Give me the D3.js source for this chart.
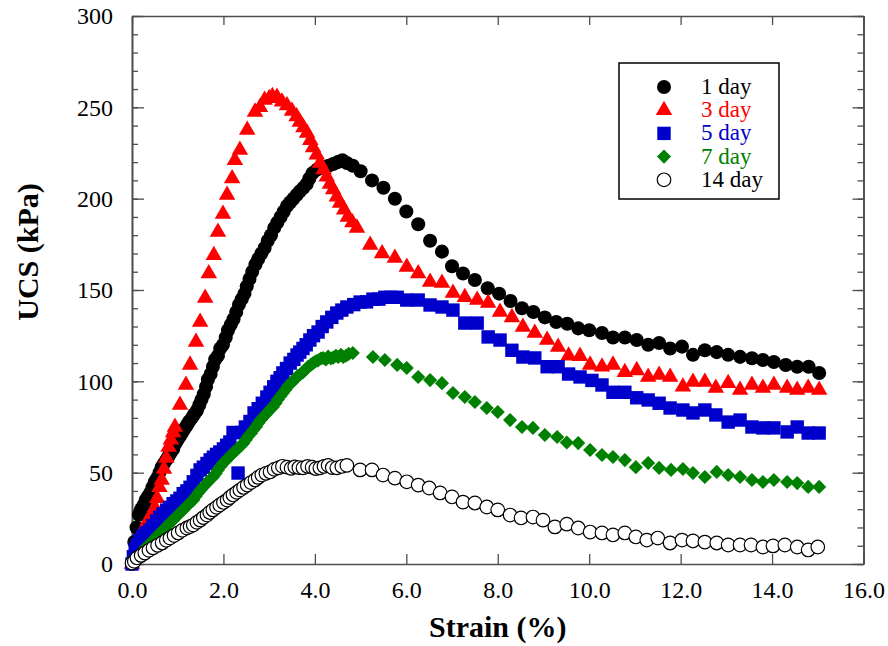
<!DOCTYPE html>
<html>
<head>
<meta charset="utf-8">
<script src="https://cdn.jsdelivr.net/npm/d3@7"></script>
<style>
  body { margin: 0; background: #fff; }
  svg text { font-family: "Liberation Serif", "Times New Roman", serif; }
</style>
</head>
<body>
<div id="graph"></div>
<script>
// Data: [strain (%), UCS (kPa)]
const day1 = [
  [0, 0], [0.05, 12], [0.1, 20], [0.15, 27], [0.2, 30], [0.25, 32], [0.3, 35], [0.35, 37],
  [0.4, 39], [0.45, 42], [0.5, 45], [0.55, 47], [0.6, 50], [0.65, 53], [0.7, 55], [0.75, 57],
  [0.8, 59], [0.85, 61], [0.9, 63], [0.95, 66], [1.0, 68], [1.05, 70], [1.1, 72], [1.15, 74],
  [1.2, 76], [1.25, 78], [1.31, 80], [1.36, 82], [1.42, 84], [1.47, 87], [1.52, 90], [1.57, 93],
  [1.62, 97], [1.66, 101], [1.72, 104], [1.77, 108], [1.82, 112], [1.88, 114], [1.93, 118],
  [1.99, 120], [2.05, 124], [2.1, 128], [2.16, 131], [2.22, 134], [2.28, 138], [2.34, 142],
  [2.4, 145], [2.46, 148], [2.51, 152], [2.57, 156], [2.63, 160], [2.7, 164], [2.76, 167],
  [2.83, 170], [2.9, 173], [2.97, 177], [3.04, 180], [3.11, 184], [3.18, 187], [3.25, 190],
  [3.32, 193], [3.39, 196], [3.46, 198], [3.53, 200], [3.6, 202], [3.67, 204], [3.75, 206],
  [3.82, 208], [3.88, 211], [3.95, 214], [4.05, 216], [4.18, 217], [4.3, 218], [4.4, 219],
  [4.5, 220], [4.6, 221], [4.7, 219.5], [4.83, 218], [5.0, 215], [5.25, 210], [5.5, 206],
  [5.75, 200], [6.0, 193], [6.26, 186], [6.52, 177], [6.78, 171], [7.0, 163], [7.24, 159],
  [7.5, 155.5], [7.78, 151], [8.03, 148], [8.28, 144], [8.53, 140], [8.78, 138], [9.03, 135],
  [9.28, 132.5], [9.52, 131.5], [9.76, 129], [10.0, 128], [10.28, 126.5], [10.52, 124],
  [10.78, 124], [11.04, 122.6], [11.29, 120], [11.53, 121], [11.77, 118], [12.03, 119],
  [12.27, 114.5], [12.53, 117], [12.79, 116], [13.04, 114.5], [13.3, 113.4], [13.56, 112.6],
  [13.8, 111.7], [14.04, 110.6], [14.3, 108.9], [14.55, 108], [14.8, 108], [15.03, 104.6]
];

const day3 = [
  [0, 0], [0.04, 4], [0.08, 7], [0.12, 10], [0.16, 13], [0.2, 16], [0.25, 19], [0.3, 21],
  [0.35, 24], [0.4, 26], [0.45, 28], [0.5, 31], [0.55, 36], [0.6, 42], [0.65, 46], [0.7, 52],
  [0.75, 58], [0.8, 64], [0.85, 68], [0.9, 72], [0.94, 75], [1.05, 87], [1.18, 98], [1.27, 109],
  [1.4, 121.5], [1.49, 132.5], [1.6, 145.6], [1.68, 159], [1.79, 169], [1.88, 181.8],
  [1.99, 191.6], [2.08, 202], [2.19, 211], [2.25, 221], [2.36, 226.6], [2.52, 237.6],
  [2.69, 247.5], [2.8, 250], [2.9, 254], [3.0, 255], [3.07, 256], [3.17, 255.6], [3.28, 253],
  [3.39, 251], [3.5, 248], [3.6, 245], [3.67, 242], [3.75, 239], [3.83, 236], [3.9, 232],
  [3.96, 228], [4.04, 224], [4.11, 219.5], [4.19, 216], [4.26, 212], [4.33, 208], [4.4, 205],
  [4.48, 201], [4.55, 197.6], [4.64, 194], [4.72, 190], [4.82, 187], [4.92, 184], [5.21, 174.6],
  [5.47, 170], [5.75, 167.5], [6.01, 162.6], [6.26, 159], [6.52, 154.4], [6.78, 153.8],
  [7.02, 148.4], [7.28, 146], [7.55, 144.5], [7.79, 142.9], [8.05, 138], [8.31, 135],
  [8.55, 129.7], [8.81, 126.5], [9.08, 122.6], [9.32, 118.8], [9.55, 114], [9.8, 113.8],
  [10.02, 109], [10.28, 108], [10.52, 109], [10.78, 105], [11.04, 106], [11.29, 102.4],
  [11.53, 103.5], [11.77, 102.4], [12.05, 97], [12.27, 99.6], [12.53, 99.6], [12.77, 96.3],
  [13.04, 99], [13.3, 95.3], [13.56, 98], [13.8, 96.3], [14.04, 98], [14.33, 96.3],
  [14.55, 95.3], [14.79, 96.3], [15.03, 95.3]
];

const day5 = [
  [0, 0], [0.03, 4], [0.07, 8], [0.12, 10.5], [0.17, 13], [0.24, 15.5], [0.31, 17], [0.39, 18.6],
  [0.46, 21], [0.54, 23.5], [0.61, 25.7], [0.68, 27.5], [0.76, 29.5], [0.83, 31], [0.9, 33],
  [0.98, 34.5], [1.05, 36], [1.12, 38.5], [1.2, 40], [1.27, 42], [1.34, 45], [1.42, 48.5],
  [1.49, 51.5], [1.56, 53], [1.64, 55], [1.71, 57], [1.78, 58.5], [1.85, 60], [1.92, 61.3],
  [2.0, 63], [2.07, 65], [2.14, 66.8], [2.21, 72], [2.32, 49.8], [2.4, 72], [2.48, 75],
  [2.58, 78], [2.67, 82.7], [2.76, 85], [2.85, 88], [2.95, 91.4], [3.02, 94], [3.1, 97],
  [3.17, 100], [3.24, 102], [3.3, 104.6], [3.38, 107], [3.46, 110], [3.54, 112], [3.61, 114.4],
  [3.67, 116], [3.74, 118], [3.81, 120], [3.89, 122.6], [3.97, 125], [4.07, 127], [4.16, 130],
  [4.26, 132.5], [4.37, 135], [4.48, 137.4], [4.59, 139], [4.7, 140.7], [4.85, 142],
  [4.99, 143.4], [5.13, 143.5], [5.27, 145], [5.4, 145], [5.53, 146], [5.66, 146], [5.8, 146],
  [6.01, 144.5], [6.26, 144.5], [6.52, 141.8], [6.78, 140.7], [7.02, 139], [7.28, 131.9],
  [7.55, 131.9], [7.79, 124.3], [8.05, 122.6], [8.31, 117], [8.55, 113.3], [8.81, 112.8],
  [9.08, 108], [9.32, 108], [9.55, 104], [9.8, 102.4], [10.06, 100.5], [10.28, 98],
  [10.52, 94], [10.78, 94], [11.04, 91], [11.29, 89.8], [11.53, 88], [11.77, 85.4],
  [12.05, 84.3], [12.27, 82.7], [12.53, 84.3], [12.77, 81.6], [13.04, 77.7], [13.3, 78.8],
  [13.56, 75], [13.8, 74.5], [14.04, 74.5], [14.33, 72.3], [14.55, 75], [14.79, 71.7],
  [15.03, 71.7]
];

const day7 = [
  [0, 0], [0.05, 1.5], [0.1, 3], [0.15, 4.5], [0.2, 6], [0.25, 7.5], [0.3, 9], [0.35, 10],
  [0.4, 11.5], [0.46, 13], [0.52, 14.5], [0.57, 16], [0.62, 17], [0.68, 18.6], [0.73, 20],
  [0.79, 21.5], [0.84, 22.8], [0.9, 24], [0.95, 25.5], [1.01, 27], [1.06, 28.3], [1.12, 29.6],
  [1.17, 31], [1.23, 32.5], [1.28, 33.8], [1.34, 35], [1.39, 37], [1.45, 39], [1.5, 40.5],
  [1.55, 42], [1.61, 43.5], [1.66, 45], [1.72, 46.5], [1.77, 47.6], [1.83, 49.5], [1.88, 51.5],
  [1.94, 53.5], [1.99, 55.3], [2.05, 56.5], [2.1, 58], [2.16, 59.5], [2.21, 60.8], [2.27, 62],
  [2.32, 63.5], [2.38, 64.8], [2.43, 66], [2.49, 68], [2.54, 70], [2.6, 71.5], [2.65, 73.3],
  [2.71, 75], [2.76, 77], [2.82, 79], [2.87, 80.5], [2.93, 82], [2.98, 83.5], [3.03, 85],
  [3.08, 86], [3.14, 88], [3.19, 90], [3.25, 92], [3.3, 93.6], [3.36, 95.5], [3.41, 97.5],
  [3.47, 99], [3.52, 100], [3.58, 101.5], [3.63, 103], [3.69, 104], [3.74, 105], [3.8, 106.5],
  [3.85, 108], [3.91, 109], [3.96, 110], [4.02, 111], [4.07, 111.5], [4.13, 112.5],
  [4.18, 112.8], [4.24, 112], [4.29, 113.5], [4.35, 112.5], [4.4, 113], [4.46, 114],
  [4.51, 113.3], [4.57, 114.5], [4.62, 113.3], [4.68, 114], [4.74, 115], [4.83, 115.5],
  [5.27, 113.3], [5.53, 111.7], [5.8, 109], [6.01, 107.3], [6.26, 102.4], [6.52, 100.7],
  [6.78, 99], [7.02, 93.6], [7.28, 91.4], [7.5, 88.7], [7.76, 85.4], [8.0, 83.2], [8.27, 78.8],
  [8.53, 75], [8.77, 74.5], [9.03, 70.6], [9.3, 69.5], [9.51, 66.5], [9.76, 66.2],
  [10.02, 62.4], [10.28, 59.7], [10.52, 58.6], [10.78, 56.9], [11.02, 53], [11.29, 55.3],
  [11.53, 52.6], [11.79, 51.5], [12.05, 52], [12.27, 49.8], [12.53, 47.6], [12.79, 50.4],
  [13.04, 48.7], [13.3, 47.6], [13.56, 46], [13.8, 44.9], [14.04, 46], [14.33, 44.9],
  [14.55, 44.3], [14.79, 42.2], [15.03, 42.2]
];

const day14 = [
  [0, 0.5], [0.05, 1.5], [0.11, 3.3], [0.2, 4.7], [0.28, 6], [0.37, 7.5], [0.46, 8.8],
  [0.56, 10.2], [0.66, 11.5], [0.75, 13], [0.83, 14.2], [0.92, 15.6], [1.01, 17], [1.1, 18.4],
  [1.2, 19.7], [1.27, 20.5], [1.34, 21.3], [1.42, 22.8], [1.49, 24], [1.56, 25.4], [1.64, 26.8],
  [1.7, 28.2], [1.77, 29.6], [1.85, 31], [1.92, 32.3], [2.0, 33.7], [2.08, 35], [2.14, 36.4],
  [2.21, 37.8], [2.29, 39.2], [2.36, 40.5], [2.44, 41.9], [2.52, 43.2], [2.6, 44.6],
  [2.69, 46], [2.76, 47.4], [2.84, 48.7], [2.93, 49.6], [3.02, 50.4], [3.11, 51.8],
  [3.2, 52.6], [3.29, 53.5], [3.39, 53], [3.48, 52.4], [3.56, 53.2], [3.65, 52.8], [3.74, 52.6],
  [3.84, 53.4], [3.94, 53], [4.02, 52.2], [4.11, 52.6], [4.2, 53.4], [4.29, 54], [4.38, 52.8],
  [4.48, 52.6], [4.59, 53.4], [4.7, 54], [4.99, 51.5], [5.25, 51.5], [5.49, 48.7], [5.75, 47],
  [6.01, 45], [6.26, 43.2], [6.5, 41.6], [6.74, 38.9], [7.0, 36.7], [7.24, 33.9], [7.5, 33.4],
  [7.76, 31.2], [8.0, 29.6], [8.27, 26.8], [8.51, 25.2], [8.77, 25.7], [8.99, 24], [9.25, 20.3],
  [9.51, 21.8], [9.76, 19.7], [10.02, 17.5], [10.28, 17], [10.52, 15.9], [10.78, 17],
  [11.02, 14.8], [11.26, 13.1], [11.5, 14.2], [11.77, 11.5], [12.03, 13.1], [12.27, 12.6],
  [12.53, 12], [12.79, 11.5], [13.04, 10.4], [13.3, 10.4], [13.54, 10.4], [13.8, 9.3],
  [14.02, 9.9], [14.28, 10.4], [14.55, 9.3], [14.79, 7.7], [15.0, 9.3]
];

const seriesNames = ["1 day", "3 day", "5 day", "7 day", "14 day"];
const xTicks = [0, 2, 4, 6, 8, 10, 12, 14, 16];
const yTicks = [0, 50, 100, 150, 200, 250, 300];

// Series styles
const styles = [
  { data: day1, shape: d3.symbolCircle, size: 155, fill: "#000000", stroke: "none", text: "#000000", rot: 0 },
  { data: day3, shape: d3.symbolTriangle, size: 118, fill: "#ff0000", stroke: "none", text: "#ff0000", rot: 0 },
  { data: day5, shape: d3.symbolSquare, size: 180, fill: "#0000cc", stroke: "none", text: "#0000cc", rot: 0 },
  { data: day7, shape: d3.symbolSquare, size: 100, fill: "#008000", stroke: "none", text: "#008000", rot: 45 },
  { data: day14, shape: d3.symbolCircle, size: 145, fill: "#ffffff", stroke: "#000000", text: "#000000", rot: 0 }
];

const WIDTH = 888;
const HEIGHT = 646;
const frameColor = "#4d4d4d";
const serif = '"Liberation Serif", "Times New Roman", Times, serif';

const x = d3.scaleLinear().domain([0, 16]).range([132, 863.5]);
const y = d3.scaleLinear().domain([0, 300]).range([564, 16]);

const svg = d3
  .select("#graph")
  .append("svg")
  .attr("width", WIDTH)
  .attr("height", HEIGHT)
  .attr("font-family", serif);

// Axes (ticks pointing inward)
const minorY = d3.range(0, 301, 10);

svg
  .append("g")
  .attr("transform", "translate(0," + y(0) + ")")
  .call(
    d3.axisBottom(x).tickValues(xTicks).tickFormat(d3.format(".1f"))
      .tickSizeInner(-10).tickSizeOuter(0).tickPadding(17)
  );

svg
  .append("g")
  .attr("transform", "translate(0," + y(300) + ")")
  .call(d3.axisTop(x).tickValues(xTicks).tickFormat("").tickSizeInner(-9).tickSizeOuter(0));

svg
  .append("g")
  .attr("transform", "translate(" + x(0) + ",0)")
  .call(d3.axisLeft(y).tickValues(minorY).tickFormat("").tickSizeInner(-6).tickSizeOuter(0));

svg
  .append("g")
  .attr("transform", "translate(" + x(0) + ",0)")
  .call(d3.axisLeft(y).tickValues(yTicks).tickSizeInner(-12).tickSizeOuter(0).tickPadding(19));

svg
  .append("g")
  .attr("transform", "translate(" + x(16) + ",0)")
  .call(d3.axisRight(y).tickValues(minorY).tickFormat("").tickSizeInner(-6).tickSizeOuter(0));

svg
  .append("g")
  .attr("transform", "translate(" + x(16) + ",0)")
  .call(d3.axisRight(y).tickValues(yTicks).tickFormat("").tickSizeInner(-11).tickSizeOuter(0));

// Axis groups get font attrs from d3; override them
svg.selectAll("g").attr("font-family", serif).attr("font-size", 24);
svg.selectAll(".domain").attr("stroke", frameColor).attr("stroke-width", 1.6);
svg.selectAll(".tick line").attr("stroke", frameColor).attr("stroke-width", 1.3);
svg.selectAll(".tick text").attr("fill", "#000");

// Points
styles.forEach((s) => {
  svg
    .append("g")
    .selectAll("path")
    .data(s.data)
    .enter()
    .append("path")
    .attr("d", d3.symbol().type(s.shape).size(s.size))
    .attr("transform", (d) => "translate(" + x(d[0]) + "," + y(d[1]) + ") rotate(" + s.rot + ")")
    .attr("fill", s.fill)
    .attr("stroke", s.stroke)
    .attr("stroke-width", 1.2);
});

// Legend
const legend = svg.append("g").attr("id", "legend");

legend
  .append("rect")
  .attr("x", 619)
  .attr("y", 63)
  .attr("width", 160)
  .attr("height", 136)
  .attr("fill", "#fff")
  .attr("stroke", "#000")
  .attr("stroke-width", 1.5);

styles.forEach((s, i) => {
  const cy = 87 + i * 23.2;
  legend
    .append("path")
    .attr("d", d3.symbol().type(s.shape).size(s.size))
    .attr("transform", "translate(664," + cy + ") rotate(" + s.rot + ")")
    .attr("fill", s.fill)
    .attr("stroke", s.stroke)
    .attr("stroke-width", 1.2);
  legend
    .append("text")
    .attr("x", 701)
    .attr("y", cy + 7)
    .attr("fill", s.text)
    .attr("font-family", serif)
    .attr("font-size", 23)
    .text(seriesNames[i]);
});

// Axis titles
svg
  .append("text")
  .attr("x", (x(0) + x(16)) / 2)
  .attr("y", 637)
  .attr("text-anchor", "middle")
  .attr("font-family", serif)
  .attr("font-size", 30)
  .attr("font-weight", "bold")
  .text("Strain (%)");

svg
  .append("text")
  .attr("transform", "translate(38,252) rotate(-90)")
  .attr("text-anchor", "middle")
  .attr("font-family", serif)
  .attr("font-size", 30)
  .attr("font-weight", "bold")
  .text("UCS (kPa)");
</script>
</body>
</html>
